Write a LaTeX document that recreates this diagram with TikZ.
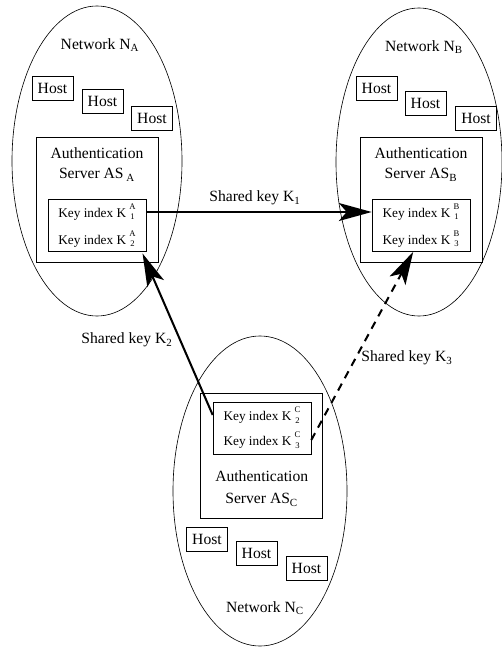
\documentclass[tikz,border=0pt]{standalone}
\usepackage{fontspec}
\setmainfont{Liberation Serif}
\usetikzlibrary{arrows.meta}
\newcommand{\keyline}[2]{Key index K\ \raisebox{-1.8pt}{\fontsize{5.5}{5}\selectfont\shortstack{#1\\#2}}}

\begin{document}
\begin{tikzpicture}[x=0.64pt,y=-0.64pt,font=\fontsize{10}{12}\selectfont,
    hostbox/.style={draw,inner sep=0pt,minimum width=26.2pt,minimum height=15.4pt},
    serverbox/.style={draw,inner sep=0pt,minimum width=78pt,minimum height=80pt},
    keybox/.style={draw,inner sep=0pt,minimum width=62.7pt,minimum height=33.3pt},
    keyrow/.style={inner sep=0pt,font=\fontsize{8.5}{10}\selectfont},
    keyarrow/.style={line width=1.3pt,-{Stealth[length=21pt,width=11.5pt,inset=5pt]}}]
    \useasboundingbox (0,0) rectangle (501,647);
    \draw (97,161) ellipse [x radius=85, y radius=155];
    \draw (419,162) ellipse [x radius=83, y radius=154];
    \draw (260,491) ellipse [x radius=87, y radius=155];
    \node (netA) at (100,45) {Network N\textsubscript{A}};
    \node (netB) at (424,47) {Network N\textsubscript{B}};
    \node (netC) at (265,608) {Network N\textsubscript{C}};
    \foreach \n/\x/\y in {a1/52.5/88,a2/102.5/101.5,a3/152/118,
                          b1/376.5/88,b2/425.5/103,b3/476/118,
                          c1/207/539,c2/256.5/553.5,c3/306.5/568}
    {
      \node[hostbox] (host\n) at (\x,\y) {Host};
    }
    \node[serverbox] (srvA) at (97,199.5) {};
    \node[serverbox] (srvB) at (421,199.5) {};
    \node[serverbox] (srvC) at (261.7,456.3) {};
    \node (authA) at (97,153) {Authentication};
    \node (nameA) at (97,175) {Server AS\,\textsubscript{A}};
    \node (authB) at (421,153) {Authentication};
    \node (nameB) at (421,175) {Server AS\textsubscript{B}};
    \node (authC) at (261.7,476) {Authentication};
    \node (nameC) at (261.7,500) {Server AS\textsubscript{C}};
    \node[keybox] (keyA) at (97,225) {};
    \node[keybox] (keyB) at (421,225.5) {};
    \node[keybox] (keyC) at (262,428) {};
    \node[keyrow] (rowA1) at (97,212) {\keyline{A}{1}};
    \node[keyrow] (rowA2) at (97,239) {\keyline{A}{2}};
    \node[keyrow] (rowB1) at (421,212) {\keyline{B}{1}};
    \node[keyrow] (rowB3) at (421,239) {\keyline{B}{3}};
    \node[keyrow] (rowC2) at (262,415) {\keyline{C}{2}};
    \node[keyrow] (rowC3) at (262,440) {\keyline{C}{3}};
    \draw[keyarrow] (keyA.east |- rowA1) -- (keyB.west |- rowB1);
    \draw[keyarrow,shorten >=1.5pt] (keyC.west |- rowC2) -- ([xshift=-3pt]keyA.south east);
    \draw[keyarrow,dash pattern=on 5pt off 4pt] (keyC.east |- rowC3) -- ([xshift=-5pt]keyB.south);
    \node (shk1) at (255,198) {Shared key K\textsubscript{1}};
    \node (shk2) at (127,340) {Shared key K\textsubscript{2}};
    \node (shk3) at (407,358) {Shared key K\textsubscript{3}};
\end{tikzpicture}
\end{document}
